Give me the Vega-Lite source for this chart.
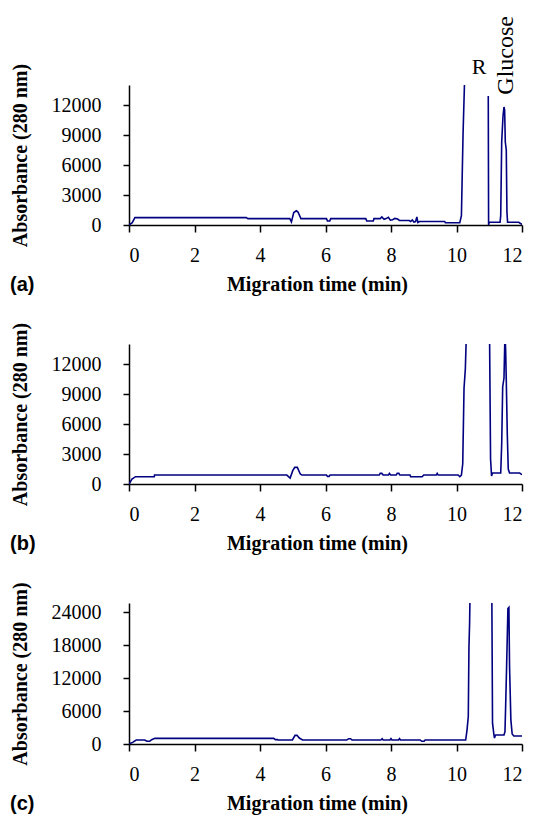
{
  "$schema": "https://vega.github.io/schema/vega-lite/v6.json",
  "padding": {"left": 10, "top": 16, "right": 5, "bottom": 5},
  "background": "white",
  "config": {
    "view": {"stroke": null},
    "axis": {
      "grid": false,
      "domainColor": "black",
      "domainWidth": 1.5,
      "tickColor": "black",
      "tickWidth": 1.5,
      "labelColor": "black",
      "titleColor": "black"
    },
    "title": {"font": "Liberation Sans", "fontWeight": "bold", "fontSize": 20, "color": "black"}
  },
  "datasets": {
    "a": [
      {"t": 0, "A": 0, "s": 1}, {"t": 0.1, "A": 240, "s": 1}, {"t": 0.18, "A": 740, "s": 1}, {"t": 3.58, "A": 740, "s": 1},
      {"t": 3.63, "A": 640, "s": 1}, {"t": 4.91, "A": 640, "s": 1}, {"t": 4.96, "A": 300, "s": 1}, {"t": 5.03, "A": 1250, "s": 1},
      {"t": 5.11, "A": 1420, "s": 1}, {"t": 5.16, "A": 1300, "s": 1}, {"t": 5.25, "A": 640, "s": 1}, {"t": 6.03, "A": 640, "s": 1},
      {"t": 6.06, "A": 400, "s": 1}, {"t": 6.13, "A": 400, "s": 1}, {"t": 6.16, "A": 640, "s": 1}, {"t": 7.23, "A": 640, "s": 1},
      {"t": 7.26, "A": 400, "s": 1}, {"t": 7.46, "A": 400, "s": 1}, {"t": 7.48, "A": 640, "s": 1}, {"t": 7.67, "A": 640, "s": 1},
      {"t": 7.72, "A": 800, "s": 1}, {"t": 7.79, "A": 570, "s": 1}, {"t": 7.85, "A": 640, "s": 1}, {"t": 7.92, "A": 760, "s": 1},
      {"t": 7.98, "A": 480, "s": 1}, {"t": 8.05, "A": 520, "s": 1}, {"t": 8.12, "A": 660, "s": 1}, {"t": 8.2, "A": 600, "s": 1},
      {"t": 8.26, "A": 450, "s": 1}, {"t": 8.56, "A": 450, "s": 1}, {"t": 8.6, "A": 350, "s": 1}, {"t": 8.65, "A": 500, "s": 1},
      {"t": 8.7, "A": 300, "s": 1}, {"t": 8.75, "A": 350, "s": 1}, {"t": 8.79, "A": 800, "s": 1}, {"t": 8.82, "A": 250, "s": 1},
      {"t": 8.87, "A": 350, "s": 1}, {"t": 9.64, "A": 350, "s": 1}, {"t": 9.66, "A": 220, "s": 1}, {"t": 10.1, "A": 220, "s": 1},
      {"t": 10.15, "A": 930, "s": 1}, {"t": 10.2, "A": 9100, "s": 1}, {"t": 10.26, "A": 16000, "s": 1},
      {"t": 10.97, "A": 12900, "s": 2}, {"t": 10.98, "A": 0, "s": 2}, {"t": 11.0, "A": 270, "s": 2}, {"t": 11.33, "A": 270, "s": 2},
      {"t": 11.35, "A": 930, "s": 2}, {"t": 11.38, "A": 8300, "s": 2}, {"t": 11.42, "A": 10900, "s": 2}, {"t": 11.45, "A": 11800, "s": 2},
      {"t": 11.47, "A": 11500, "s": 2}, {"t": 11.49, "A": 8300, "s": 2}, {"t": 11.52, "A": 7500, "s": 2}, {"t": 11.54, "A": 1300, "s": 2},
      {"t": 11.56, "A": 270, "s": 2}, {"t": 11.9, "A": 270, "s": 2}, {"t": 12.0, "A": 50, "s": 2}
    ],
    "b": [
      {"t": 0, "A": 0}, {"t": 0.09, "A": 500}, {"t": 0.2, "A": 730}, {"t": 0.77, "A": 730}, {"t": 0.78, "A": 895},
      {"t": 4.82, "A": 895}, {"t": 4.92, "A": 600}, {"t": 5.0, "A": 1330}, {"t": 5.06, "A": 1660}, {"t": 5.14, "A": 1660},
      {"t": 5.23, "A": 1000}, {"t": 5.28, "A": 895}, {"t": 6.03, "A": 895}, {"t": 6.06, "A": 760}, {"t": 6.11, "A": 760},
      {"t": 6.14, "A": 895}, {"t": 7.64, "A": 895}, {"t": 7.67, "A": 1060}, {"t": 7.72, "A": 1060}, {"t": 7.76, "A": 895},
      {"t": 7.92, "A": 895}, {"t": 7.95, "A": 1060}, {"t": 7.99, "A": 895}, {"t": 8.16, "A": 895}, {"t": 8.19, "A": 1060},
      {"t": 8.24, "A": 1060}, {"t": 8.27, "A": 895}, {"t": 8.58, "A": 895}, {"t": 8.6, "A": 730}, {"t": 8.95, "A": 730},
      {"t": 9.0, "A": 895}, {"t": 9.38, "A": 895}, {"t": 9.41, "A": 1060}, {"t": 9.44, "A": 895}, {"t": 10.05, "A": 895},
      {"t": 10.1, "A": 730}, {"t": 10.15, "A": 895}, {"t": 10.19, "A": 2000}, {"t": 10.23, "A": 9600}, {"t": 10.27, "A": 11500},
      {"t": 10.31, "A": 16000}, {"t": 10.9, "A": 16000}, {"t": 11.01, "A": 14500}, {"t": 11.04, "A": 2500}, {"t": 11.07, "A": 800},
      {"t": 11.1, "A": 1100}, {"t": 11.35, "A": 1100}, {"t": 11.38, "A": 4000}, {"t": 11.41, "A": 9700}, {"t": 11.45, "A": 10600},
      {"t": 11.48, "A": 15000}, {"t": 11.5, "A": 13500}, {"t": 11.52, "A": 10400}, {"t": 11.55, "A": 5100}, {"t": 11.58, "A": 1500},
      {"t": 11.62, "A": 1100}, {"t": 11.93, "A": 1100}, {"t": 12.0, "A": 930}
    ],
    "c": [
      {"t": 0, "A": 0}, {"t": 0.11, "A": 300}, {"t": 0.22, "A": 730}, {"t": 0.48, "A": 730}, {"t": 0.55, "A": 490},
      {"t": 0.63, "A": 490}, {"t": 0.69, "A": 790}, {"t": 0.79, "A": 1030}, {"t": 4.42, "A": 1030}, {"t": 4.47, "A": 790},
      {"t": 4.53, "A": 790}, {"t": 4.56, "A": 730}, {"t": 4.99, "A": 730}, {"t": 5.07, "A": 1580}, {"t": 5.13, "A": 1580},
      {"t": 5.2, "A": 1090}, {"t": 5.3, "A": 730}, {"t": 6.65, "A": 730}, {"t": 6.71, "A": 970}, {"t": 6.76, "A": 970},
      {"t": 6.81, "A": 730}, {"t": 7.69, "A": 730}, {"t": 7.73, "A": 970}, {"t": 7.76, "A": 730}, {"t": 7.97, "A": 730},
      {"t": 8.0, "A": 970}, {"t": 8.03, "A": 730}, {"t": 8.23, "A": 730}, {"t": 8.26, "A": 970}, {"t": 8.29, "A": 730},
      {"t": 8.89, "A": 730}, {"t": 8.94, "A": 490}, {"t": 9.01, "A": 490}, {"t": 9.04, "A": 730}, {"t": 10.28, "A": 730},
      {"t": 10.32, "A": 2500}, {"t": 10.36, "A": 5000}, {"t": 10.38, "A": 17700}, {"t": 10.4, "A": 22000}, {"t": 10.42, "A": 30000},
      {"t": 10.95, "A": 30000}, {"t": 11.08, "A": 26000}, {"t": 11.1, "A": 3800}, {"t": 11.14, "A": 1800}, {"t": 11.16, "A": 1090},
      {"t": 11.19, "A": 1640}, {"t": 11.45, "A": 1640}, {"t": 11.48, "A": 2240}, {"t": 11.5, "A": 6800}, {"t": 11.53, "A": 14100},
      {"t": 11.57, "A": 24700}, {"t": 11.6, "A": 24900}, {"t": 11.62, "A": 14100}, {"t": 11.66, "A": 4400}, {"t": 11.7, "A": 1820},
      {"t": 11.75, "A": 1460}, {"t": 12.0, "A": 1460}
    ],
    "labels": [
      {"t": 10.69, "A": 15800, "label": "R", "angle": 0},
      {"t": 11.51, "A": 13030, "label": "Glucose", "angle": 270}
    ]
  },
  "spacing": 27,
  "vconcat": [
    {
      "width": 393, "height": 140,
      "title": {"text": "(a)", "orient": "bottom", "anchor": "start", "frame": "bounds", "offset": -19},
      "encoding": {
        "x": {"field": "t", "type": "quantitative", "scale": {"domain": [0, 12], "nice": false},
              "axis": {"values": [0, 2, 4, 6, 8, 10, 12], "title": "Migration time (min)", "format": "d", "titleX": 188,
                       "labelFont": "Liberation Serif", "labelFontSize": 20, "labelPadding": 13, "tickSize": 7,
                       "titleFont": "Liberation Serif", "titleFontSize": 20, "titleFontWeight": "bold", "titlePadding": 9, "labelOverlap": false}},
        "y": {"field": "A", "type": "quantitative", "scale": {"domain": [0, 14000], "nice": false},
              "axis": {"values": [0, 3000, 6000, 9000, 12000], "title": "Absorbance (280 nm)", "format": "d",
                       "labelFont": "Liberation Serif", "labelFontSize": 20, "labelPadding": 22, "tickSize": 6,
                       "titleFont": "Liberation Serif", "titleFontSize": 20, "titleFontWeight": "bold", "titlePadding": 21, "labelOverlap": false}}
      },
      "layer": [
        {
          "data": {"name": "a"},
          "mark": {"type": "line", "color": "#000080", "strokeWidth": 1.6, "clip": true},
          "encoding": {
            "detail": {"field": "s", "type": "nominal"},
            "order": {"field": "t", "type": "quantitative"}
          }
        },
        {
          "data": {"name": "labels"},
          "transform": [{"filter": "datum.angle == 0"}],
          "mark": {"type": "text", "font": "Liberation Serif", "fontSize": 22, "color": "black", "align": "center", "baseline": "middle"},
          "encoding": {"text": {"field": "label"}}
        },
        {
          "data": {"name": "labels"},
          "transform": [{"filter": "datum.angle == 270"}],
          "mark": {"type": "text", "font": "Liberation Serif", "fontSize": 24, "color": "black", "align": "left", "baseline": "middle", "angle": 270},
          "encoding": {"text": {"field": "label"}}
        }
      ]
    },
    {
      "width": 393, "height": 140,
      "title": {"text": "(b)", "orient": "bottom", "anchor": "start", "frame": "bounds", "offset": -19},
      "data": {"name": "b"},
      "mark": {"type": "line", "color": "#000080", "strokeWidth": 1.6, "clip": true},
      "encoding": {
        "x": {"field": "t", "type": "quantitative", "scale": {"domain": [0, 12], "nice": false},
              "axis": {"values": [0, 2, 4, 6, 8, 10, 12], "title": "Migration time (min)", "format": "d", "titleX": 188,
                       "labelFont": "Liberation Serif", "labelFontSize": 20, "labelPadding": 13, "tickSize": 7,
                       "titleFont": "Liberation Serif", "titleFontSize": 20, "titleFontWeight": "bold", "titlePadding": 9, "labelOverlap": false}},
        "y": {"field": "A", "type": "quantitative", "scale": {"domain": [0, 14000], "nice": false},
              "axis": {"values": [0, 3000, 6000, 9000, 12000], "title": "Absorbance (280 nm)", "format": "d",
                       "labelFont": "Liberation Serif", "labelFontSize": 20, "labelPadding": 22, "tickSize": 6,
                       "titleFont": "Liberation Serif", "titleFontSize": 20, "titleFontWeight": "bold", "titlePadding": 21, "labelOverlap": false}},
        "order": {"field": "t", "type": "quantitative"}
      }
    },
    {
      "width": 393, "height": 141,
      "title": {"text": "(c)", "orient": "bottom", "anchor": "start", "frame": "bounds", "offset": -19},
      "data": {"name": "c"},
      "mark": {"type": "line", "color": "#000080", "strokeWidth": 1.6, "clip": true},
      "encoding": {
        "x": {"field": "t", "type": "quantitative", "scale": {"domain": [0, 12], "nice": false},
              "axis": {"values": [0, 2, 4, 6, 8, 10, 12], "title": "Migration time (min)", "format": "d", "titleX": 188,
                       "labelFont": "Liberation Serif", "labelFontSize": 20, "labelPadding": 13, "tickSize": 7,
                       "titleFont": "Liberation Serif", "titleFontSize": 20, "titleFontWeight": "bold", "titlePadding": 9, "labelOverlap": false}},
        "y": {"field": "A", "type": "quantitative", "scale": {"domain": [0, 25700], "nice": false},
              "axis": {"values": [0, 6000, 12000, 18000, 24000], "title": "Absorbance (280 nm)", "format": "d",
                       "labelFont": "Liberation Serif", "labelFontSize": 20, "labelPadding": 22, "tickSize": 6,
                       "titleFont": "Liberation Serif", "titleFontSize": 20, "titleFontWeight": "bold", "titlePadding": 21, "labelOverlap": false}},
        "order": {"field": "t", "type": "quantitative"}
      }
    }
  ]
}
